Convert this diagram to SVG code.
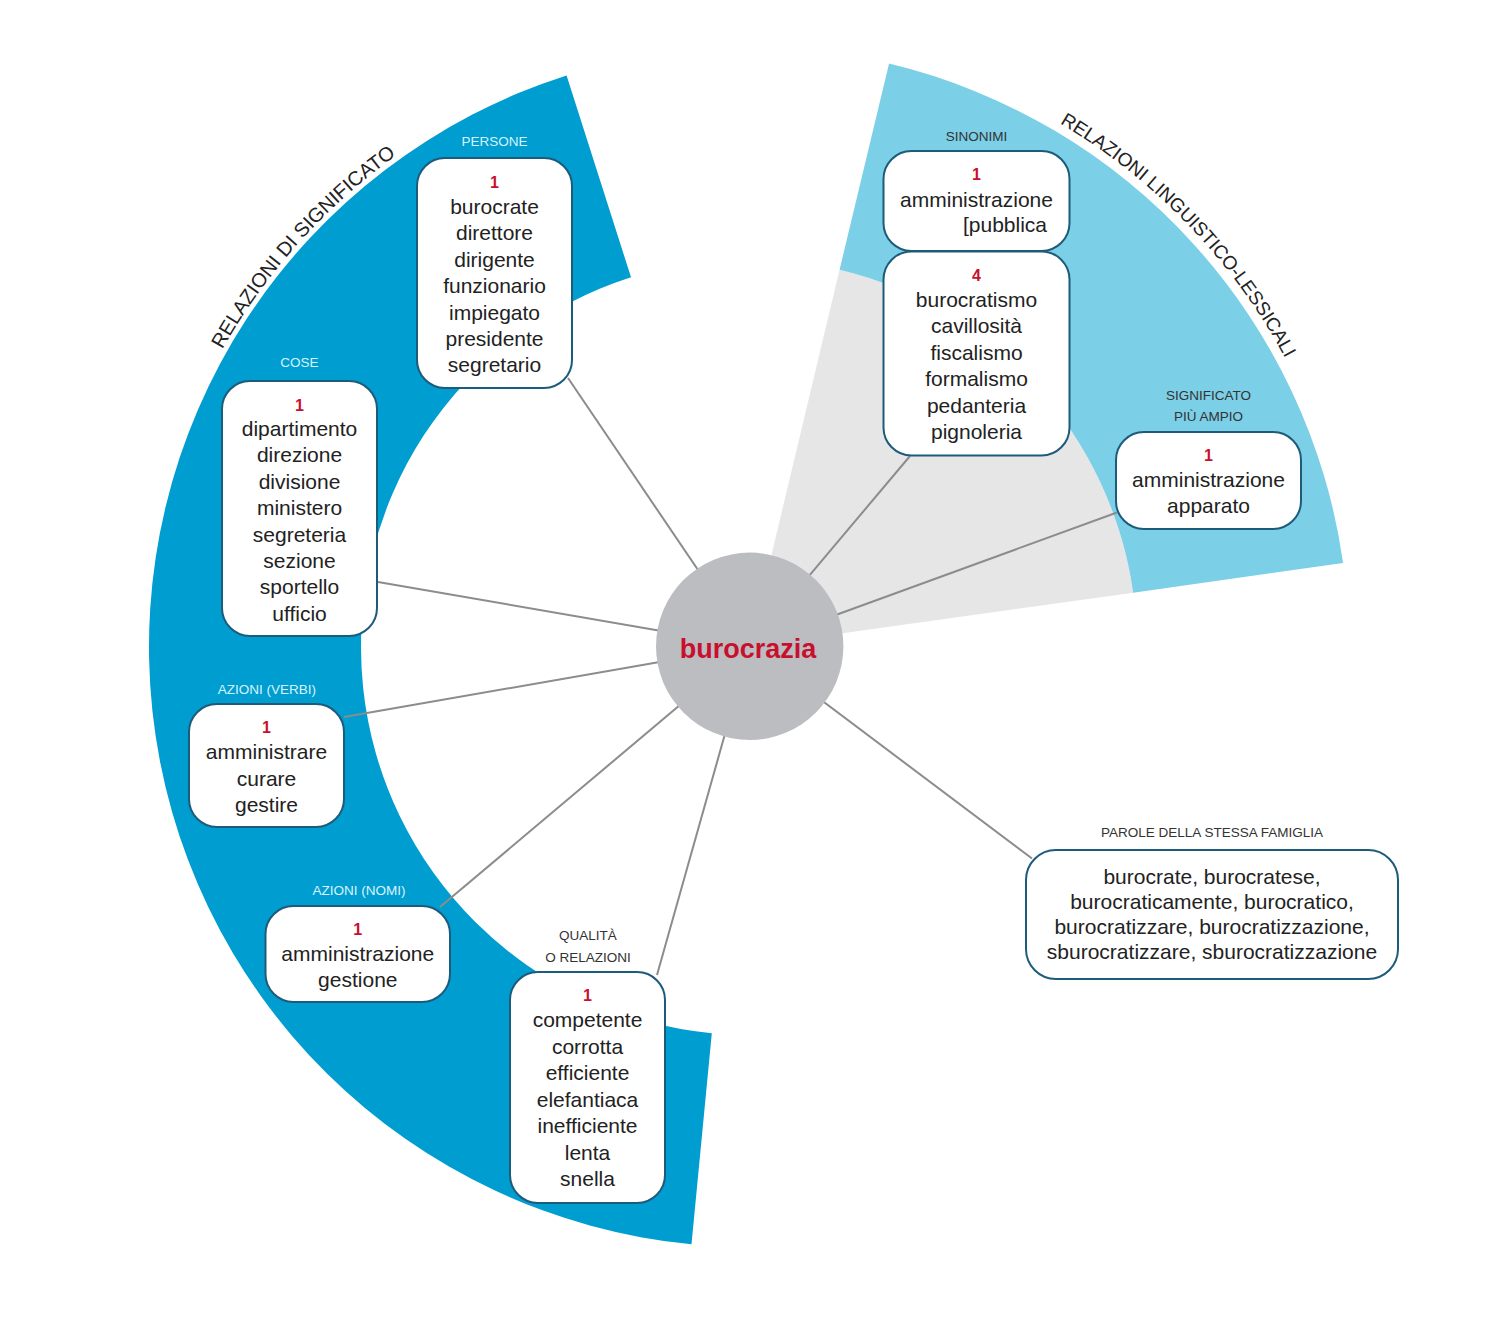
<svg xmlns="http://www.w3.org/2000/svg" width="1500" height="1327" viewBox="0 0 1500 1327">
<defs>
<style>
text{font-family:"Liberation Sans",Arial,sans-serif}
.box{fill:#fff;stroke:#1d5b7b;stroke-width:2}
.w{font-size:21px;fill:#222;text-anchor:middle}
.n{font-size:16px;font-weight:bold;fill:#c8102e;text-anchor:middle}
.ll{font-size:13.5px;fill:#d8f3fc;text-anchor:middle}
.ld{font-size:13.5px;fill:#333;text-anchor:middle}
.conn line{stroke:#8c8c8c;stroke-width:2}
.title{font-size:20px;fill:#222}
</style>
<path id="arcL" d="M144.33 626.94 A605 605 0 0 1 663.76 48.04"/>
<path id="arcR" d="M814.77 41.56 A609 609 0 0 1 1356.66 606.64"/>
</defs>
<rect width="1500" height="1327" fill="#fff"/>
<g id="backgrounds">
<path d="M566.58 75.4 A600 600 0 0 0 691.49 1244.24 L711.81 1033.22 A388 388 0 0 1 631.04 277.37 Z" fill="#009dd0"/>
<path d="M749.7 646.3 L839.58 269.72 A388 388 0 0 1 1133.18 592.67 Z" fill="#e6e6e7"/>
<path d="M889.07 63.58 A600 600 0 0 1 1343.09 562.98 L1133.18 592.67 A388 388 0 0 0 839.58 269.72 Z" fill="#7bcfe7"/>
</g>
<g id="titles">
<text class="title"><textPath href="#arcL" startOffset="50%" text-anchor="middle">RELAZIONI DI SIGNIFICATO</textPath></text>
<text class="title" style="font-size:19px"><textPath href="#arcR" startOffset="50%" text-anchor="middle">RELAZIONI LINGUISTICO-LESSICALI</textPath></text>
</g>
<g id="connectors" class="conn">
<line x1="568" y1="378" x2="749.7" y2="646.3"/>
<line x1="378" y1="582" x2="749.7" y2="646.3"/>
<line x1="344" y1="717" x2="749.7" y2="646.3"/>
<line x1="440" y1="907" x2="749.7" y2="646.3"/>
<line x1="657" y1="975" x2="749.7" y2="646.3"/>
<line x1="910" y1="456" x2="749.7" y2="646.3"/>
<line x1="1117" y1="512.5" x2="749.7" y2="646.3"/>
<line x1="1032" y1="858.5" x2="749.7" y2="646.3"/>
</g>
<g id="persone">
<text class="ll" x="494.5" y="146">PERSONE</text>
<rect class="box" x="417" y="158" width="155" height="230" rx="28"/>
<text class="n" x="494.5" y="188">1</text>
<text class="w" x="494.5" y="214">burocrate</text>
<text class="w" x="494.5" y="240.4">direttore</text>
<text class="w" x="494.5" y="266.8">dirigente</text>
<text class="w" x="494.5" y="293.2">funzionario</text>
<text class="w" x="494.5" y="319.6">impiegato</text>
<text class="w" x="494.5" y="346">presidente</text>
<text class="w" x="494.5" y="372.4">segretario</text>
</g>
<g id="cose">
<text class="ll" x="299.5" y="367">COSE</text>
<rect class="box" x="222" y="381" width="155" height="255" rx="28"/>
<text class="n" x="299.5" y="411">1</text>
<text class="w" x="299.5" y="436">dipartimento</text>
<text class="w" x="299.5" y="462.4">direzione</text>
<text class="w" x="299.5" y="488.8">divisione</text>
<text class="w" x="299.5" y="515.2">ministero</text>
<text class="w" x="299.5" y="541.6">segreteria</text>
<text class="w" x="299.5" y="568">sezione</text>
<text class="w" x="299.5" y="594.4">sportello</text>
<text class="w" x="299.5" y="620.8">ufficio</text>
</g>
<g id="azioni-verbi">
<text class="ll" x="267" y="693.5">AZIONI (VERBI)</text>
<rect class="box" x="189" y="704" width="155" height="123" rx="28"/>
<text class="n" x="266.5" y="733">1</text>
<text class="w" x="266.5" y="759">amministrare</text>
<text class="w" x="266.5" y="785.5">curare</text>
<text class="w" x="266.5" y="812">gestire</text>
</g>
<g id="azioni-nomi">
<text class="ll" x="359" y="895">AZIONI (NOMI)</text>
<rect class="box" x="265.5" y="906" width="184.5" height="96" rx="28"/>
<text class="n" x="357.8" y="935">1</text>
<text class="w" x="357.8" y="961">amministrazione</text>
<text class="w" x="357.8" y="987">gestione</text>
</g>
<g id="qualita">
<text class="ld" x="588" y="940">QUALITÀ</text>
<text class="ld" x="588" y="961.5">O RELAZIONI</text>
<rect class="box" x="510" y="972" width="155" height="231" rx="28"/>
<text class="n" x="587.5" y="1001">1</text>
<text class="w" x="587.5" y="1027">competente</text>
<text class="w" x="587.5" y="1053.5">corrotta</text>
<text class="w" x="587.5" y="1080">efficiente</text>
<text class="w" x="587.5" y="1106.5">elefantiaca</text>
<text class="w" x="587.5" y="1133">inefficiente</text>
<text class="w" x="587.5" y="1159.5">lenta</text>
<text class="w" x="587.5" y="1186">snella</text>
</g>
<g id="sinonimi">
<text class="ld" x="976.5" y="141">SINONIMI</text>
<rect class="box" x="883.5" y="151" width="186" height="100" rx="28"/>
<text class="n" x="976.5" y="180">1</text>
<text class="w" x="976.5" y="207">amministrazione</text>
<text class="w" x="1047" y="232" style="text-anchor:end">[pubblica</text>
</g>
<g id="sinonimi-4">
<rect class="box" x="883.5" y="251.5" width="186" height="204" rx="28"/>
<text class="n" x="976.5" y="281">4</text>
<text class="w" x="976.5" y="307">burocratismo</text>
<text class="w" x="976.5" y="333.4">cavillosità</text>
<text class="w" x="976.5" y="359.8">fiscalismo</text>
<text class="w" x="976.5" y="386.2">formalismo</text>
<text class="w" x="976.5" y="412.6">pedanteria</text>
<text class="w" x="976.5" y="439">pignoleria</text>
</g>
<g id="significato">
<text class="ld" x="1208.5" y="400">SIGNIFICATO</text>
<text class="ld" x="1208.5" y="421">PIÙ AMPIO</text>
<rect class="box" x="1116" y="432" width="185" height="97" rx="28"/>
<text class="n" x="1208.5" y="461">1</text>
<text class="w" x="1208.5" y="487">amministrazione</text>
<text class="w" x="1208.5" y="513">apparato</text>
</g>
<g id="famiglia">
<text class="ld" x="1212" y="837">PAROLE DELLA STESSA FAMIGLIA</text>
<rect class="box" x="1026" y="850" width="372" height="129" rx="30"/>
<text class="w" x="1212" y="884">burocrate, burocratese,</text>
<text class="w" x="1212" y="909">burocraticamente, burocratico,</text>
<text class="w" x="1212" y="934">burocratizzare, burocratizzazione,</text>
<text class="w" x="1212" y="959">sburocratizzare, sburocratizzazione</text>
</g>
<g id="centro">
<circle cx="749.7" cy="646.3" r="93.7" fill="#bcbdc1"/>
<text x="748" y="658" style="font-size:27px;font-weight:bold;fill:#c8102e;text-anchor:middle">burocrazia</text>
</g>
</svg>
